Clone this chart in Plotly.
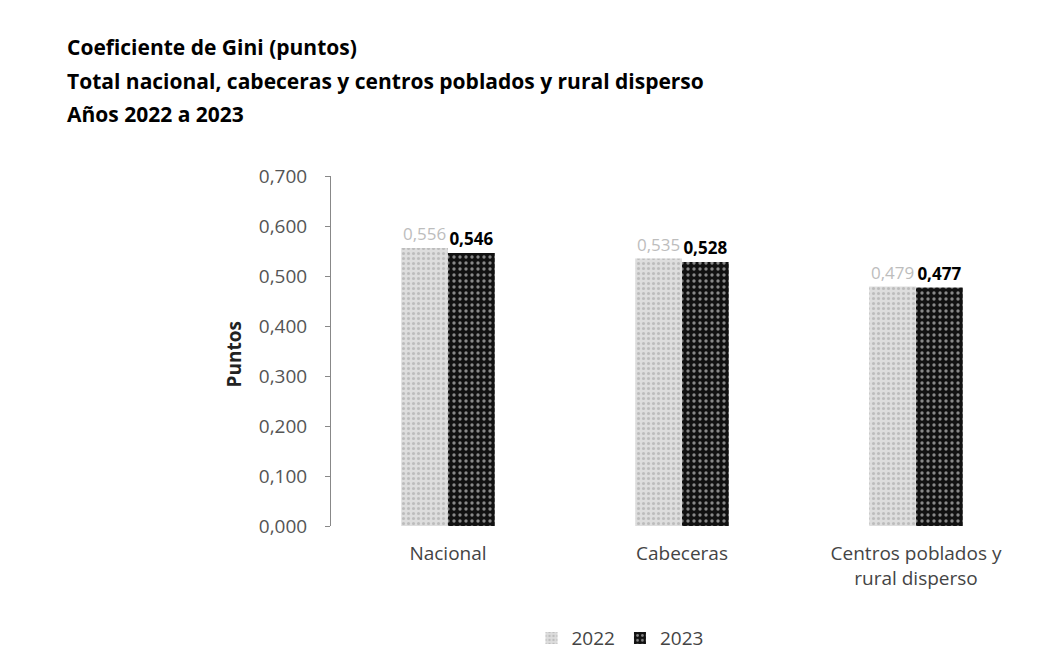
import plotly.graph_objects as go

categories = ["Nacional", "Cabeceras", "Centros poblados y<br>rural disperso"]
years = ["2022", "2023"]
values_2022 = [0.556, 0.535, 0.479]
values_2023 = [0.546, 0.528, 0.477]
y_ticks = [0.0, 0.1, 0.2, 0.3, 0.4, 0.5, 0.6, 0.7]

FONT = "Open Sans"
W, H = 1044, 661
ML, MR, MT, MB = 323, 19, 168, 140
PH = H - MT - MB
PW = W - ML - MR


def ypaper(px):
    return (H - MB - px) / PH


def xpaper(px):
    return (px - ML) / PW


fig = go.Figure()
fig.add_trace(go.Bar(
    name=years[0], x=categories, y=values_2022,
    marker=dict(color="#d6d6d6", line=dict(width=0),
                pattern=dict(shape=".", fgcolor="#9c9c9c", bgcolor="#dddddd", size=5, solidity=0.3)),
    texttemplate="%{y:.3f}", textposition="outside", constraintext="none",
    textfont=dict(family=FONT, size=17, color="#bdbdbd"),
    cliponaxis=False,
))
fig.add_trace(go.Bar(
    name=years[1], x=categories, y=values_2023,
    marker=dict(color="#111111", line=dict(width=0),
                pattern=dict(shape=".", fgcolor="#ffffff", bgcolor="#111111", size=6, solidity=0.25)),
    texttemplate="<b>%{y:.3f}</b>", textposition="outside", constraintext="none",
    textfont=dict(family=FONT, size=17, color="#000000"),
    cliponaxis=False,
))

fig.update_layout(
    width=W, height=H,
    paper_bgcolor="white", plot_bgcolor="white",
    separators=",.",
    barmode="group", bargap=0.6, bargroupgap=0.0,
    margin=dict(l=ML, r=MR, t=MT, b=MB),
    font=dict(family=FONT, size=18, color="#333333"),
    showlegend=True,
    legend=dict(orientation="h", x=xpaper(612), xanchor="center", y=ypaper(634), yanchor="middle",
                font=dict(family=FONT, size=19, color="#444444"),
                traceorder="normal", itemwidth=30),
    xaxis=dict(showline=False, ticks="", ticklabelstandoff=14,
               tickfont=dict(family=FONT, size=19, color="#444444")),
    yaxis=dict(range=[0, 0.7], tickvals=y_ticks, tickformat=".3f",
               showgrid=False, zeroline=False,
               showline=True, linecolor="#888888", linewidth=1,
               ticks="outside", ticklen=5, tickcolor="#888888", ticklabelstandoff=14,
               tickfont=dict(family=FONT, size=19, color="#555555")),
)

fig.add_annotation(text="<b>Puntos</b>", xref="paper", yref="paper",
                   x=xpaper(226), y=ypaper(348), xanchor="center", yanchor="middle",
                   textangle=-90, showarrow=False,
                   font=dict(family=FONT, size=19, color="#222222"))

title_lines = [
    "Coeficiente de Gini (puntos)",
    "Total nacional, cabeceras y centros poblados y rural disperso",
    "Años 2022 a 2023",
]
title_y = [38, 72, 105]
for line, ty in zip(title_lines, title_y):
    fig.add_annotation(text=f"<b>{line}</b>", xref="paper", yref="paper",
                       x=xpaper(57), xanchor="left",
                       y=ypaper(ty), yanchor="middle",
                       showarrow=False, font=dict(family=FONT, size=21, color="#000000"))

fig.write_html("out.html")
